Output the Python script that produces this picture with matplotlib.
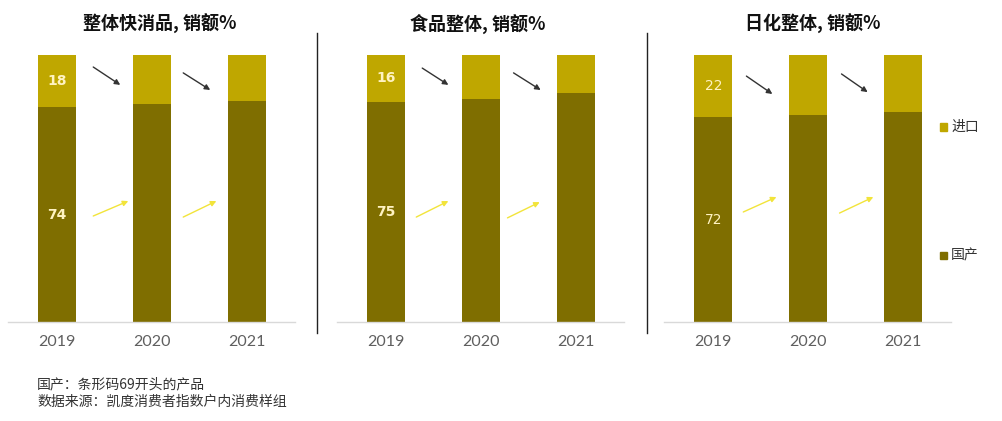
import matplotlib
matplotlib.use("Agg")
import matplotlib.pyplot as plt
from matplotlib.patches import Rectangle
from matplotlib.lines import Line2D

plt.rcParams['font.family'] = ['Noto Sans CJK SC', 'DejaVu Sans']

years = ["2019", "2020", "2021"]
titles = ["整体快消品, 销额%", "食品整体, 销额%", "日化整体, 销额%"]
series_names = ["进口", "国产"]
# 国产 (domestic) and 进口 (import) sales share per panel
domestic = [[74, 75, 76], [75, 76, 78], [72, 73, 74]]
imported = [[18, 17, 16], [16, 15, 13], [22, 21, 20]]
labelled = [[True, False, False]] * 3

c_imp = "#BFA700"
c_dom = "#7F6E00"
c_lab = "#FFF3C2"

W, H = 1002, 421
fig = plt.figure(figsize=(W / 100, H / 100), dpi=100)

def fx(px):
    return px / W

def fy(py):
    return 1 - py / H

ax_lefts = [8, 337, 664]
ax_w = 287
title_x = [160, 478, 813]
# arrow offsets (data coords, relative to bar index): first gap, second gap
dark_arrows = [[(0.38, 0.955, 0.665, 0.888), (1.33, 0.933, 1.615, 0.869)],
               [(0.38, 0.951, 0.656, 0.888), (1.344, 0.933, 1.63, 0.869)],
               [(0.35, 0.921, 0.624, 0.854), (1.354, 0.929, 1.63, 0.861)]]
yel_arrows = [[(0.38, 0.397, 0.75, 0.453), (1.33, 0.393, 1.68, 0.453)],
              [(0.317, 0.393, 0.656, 0.453), (1.28, 0.39, 1.62, 0.449)],
              [(0.317, 0.412, 0.667, 0.468), (1.333, 0.408, 1.69, 0.468)]]

for p in range(3):
    ax = fig.add_axes([fx(ax_lefts[p]), fy(322), fx(ax_w), (322 - 55) / H])
    dom = domestic[p]
    imp = imported[p]
    dom_s = [d / (d + i) for d, i in zip(dom, imp)]
    imp_s = [i / (d + i) for d, i in zip(dom, imp)]
    xs = list(range(len(years)))
    ax.bar(xs, dom_s, width=0.40, color=c_dom, zorder=2)
    ax.bar(xs, imp_s, width=0.40, bottom=dom_s, color=c_imp, zorder=2)
    for k in xs:
        if labelled[p][k]:
            w = 'bold' if p < 2 else 'normal'
            ax.text(k, dom_s[k] / 2, str(dom[k]), ha='center', va='center',
                    color=c_lab, fontsize=10, fontweight=w, family=['DejaVu Sans'])
            ax.text(k, dom_s[k] + imp_s[k] / 2, str(imp[k]), ha='center', va='center',
                    color=c_lab, fontsize=10, fontweight=w, family=['DejaVu Sans'])
    for (x0, y0, x1, y1) in dark_arrows[p]:
        ax.annotate("", xy=(x1, y1), xytext=(x0, y0),
                    arrowprops=dict(arrowstyle='-|>', color='#333333', lw=1.0,
                                    mutation_scale=8, shrinkA=0, shrinkB=0))
    for (x0, y0, x1, y1) in yel_arrows[p]:
        ax.annotate("", xy=(x1, y1), xytext=(x0, y0),
                    arrowprops=dict(arrowstyle='-|>', color='#F2E43A', lw=1.0,
                                    mutation_scale=8, shrinkA=0, shrinkB=0))
    ax.set_xlim(-0.52, 2.51)
    ax.set_ylim(0, 1)
    ax.set_yticks([])
    ax.set_xticks(xs)
    ax.set_xticklabels(years, fontsize=11.5, color='#5f5f5f',
                       family=['Lato', 'DejaVu Sans'])
    ax.tick_params(axis='x', length=0, pad=9)
    for s in ('top', 'left', 'right'):
        ax.spines[s].set_visible(False)
    ax.spines['bottom'].set_color('#d9d9d9')
    ax.spines['bottom'].set_linewidth(1)
    ax.patch.set_alpha(0)
    fig.text(fx(title_x[p]), fy(24), titles[p], ha='center', va='center',
             fontsize=13, fontweight='bold', color='#111111')

# dividers
for xp in (317, 647):
    fig.add_artist(Line2D([fx(xp), fx(xp)], [fy(33), fy(333)], color='#222222', lw=1))

# legend
for name, col, yp in ((series_names[0], c_imp, 127), (series_names[1], c_dom, 255)):
    fig.add_artist(Rectangle((fx(939.5), fy(yp + 3.5)), fx(7), 7 / H, color=col,
                             transform=fig.transFigure))
    fig.text(fx(951), fy(yp), name, ha='left', va='center', fontsize=10, color='#333333')

fig.text(fx(37), fy(384), "国产：条形码69开头的产品", ha='left', va='center', fontsize=10, color='#333333')
fig.text(fx(37), fy(402), "数据来源：凯度消费者指数户内消费样组", ha='left', va='center', fontsize=10, color='#333333')

fig.savefig("out.png", dpi=100)
